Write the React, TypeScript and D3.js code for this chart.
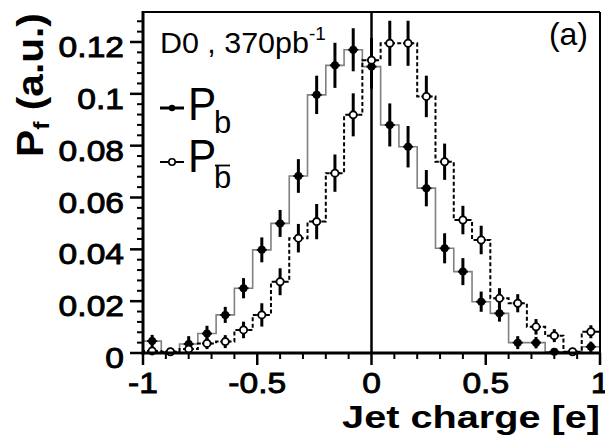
import React from "react";
import * as d3 from "d3";

// Bin centres of the jet-charge histogram (25 bins, width 0.08)
const binCenters = [
  -0.96, -0.88, -0.8, -0.72, -0.64, -0.56, -0.48, -0.4, -0.32, -0.24, -0.16, -0.08, 0,
  0.08, 0.16, 0.24, 0.32, 0.4, 0.48, 0.56, 0.64, 0.72, 0.8, 0.88, 0.96,
];
const binWidth = 0.08;

// P_b (solid grey histogram, filled markers)
const pbValues = [
  0.0046, 0.0005, 0.0035, 0.0075, 0.0147, 0.025, 0.0398, 0.05, 0.0683, 0.0996, 0.111, 0.117, 0.1105,
  0.088, 0.0796, 0.0636, 0.0404, 0.0314, 0.0198, 0.0153, 0.004, 0.004, 0.0005, 0.0005, 0.0024,
];
const pbErrors = [
  0.0024, 0.0012, 0.003, 0.003, 0.0031, 0.0039, 0.0048, 0.0052, 0.0065, 0.0074, 0.0087, 0.0083, 0.0085,
  0.0083, 0.008, 0.007, 0.0058, 0.0052, 0.0039, 0.0032, 0.0025, 0.0022, 0.0012, 0.0012, 0.002,
];

// P_bbar (dashed black histogram, open markers)
const pbbarValues = [
  0.0008, 0.0005, 0.0015, 0.0037, 0.0044, 0.0089, 0.0147, 0.0275, 0.0443, 0.0507, 0.0694, 0.0919, 0.113,
  0.1195, 0.1195, 0.099, 0.0738, 0.0513, 0.0436, 0.0211, 0.0192, 0.0101, 0.0067, 0.0005, 0.0082,
];
const pbbarErrors = [
  0.0012, 0.0012, 0.0018, 0.0022, 0.0025, 0.0032, 0.0045, 0.0052, 0.0055, 0.0068, 0.0072, 0.0083, 0.0085,
  0.0087, 0.0087, 0.008, 0.007, 0.0055, 0.0055, 0.0039, 0.0035, 0.003, 0.0025, 0.0012, 0.0025,
];

const xTicks = [-1, -0.5, 0, 0.5, 1];
const xTickLabels = ["-1", "-0.5", "0", "0.5", "1"];
const yTicks = [0, 0.02, 0.04, 0.06, 0.08, 0.1, 0.12];
const yTickLabels = ["0", "0.02", "0.04", "0.06", "0.08", "0.1", "0.12"];

const W = 605;
const H = 442;
const FONT = "'Liberation Sans', Arial, Helvetica, sans-serif";

export default function App() {
  const left = 143, right = 600, top = 12, bottom = 353;
  const x = d3.scaleLinear().domain([-1, 1]).range([left, right]);
  const y = d3.scaleLinear().domain([0, 0.12]).range([bottom, 42]);
  const yTop = y.invert(top);

  const stepPoints = (vals: number[]) => {
    const pts: [number, number][] = [];
    pts.push([binCenters[0] - binWidth / 2, 0]);
    vals.forEach((v, i) => {
      pts.push([binCenters[i] - binWidth / 2, v]);
      pts.push([binCenters[i] + binWidth / 2, v]);
    });
    pts.push([binCenters[binCenters.length - 1] + binWidth / 2, 0]);
    return pts;
  };
  const line = d3
    .line<[number, number]>()
    .x((d) => x(d[0]))
    .y((d) => y(d[1]));

  const yMinor = d3.range(0, yTop, 0.004).filter((v) => Math.abs(v / 0.02 - Math.round(v / 0.02)) > 1e-6);
  const xMinor = d3.range(-1, 1.0001, 0.1).filter((v) => Math.abs(v / 0.5 - Math.round(v / 0.5)) > 1e-6);

  const marker = (vals: number[], errs: number[], open: boolean) =>
    vals.map((v, i) => {
      const cx = x(binCenters[i]);
      const cy = y(v);
      return (
        <g key={(open ? "o" : "f") + i}>
          <line x1={cx} x2={cx} y1={y(v + errs[i])} y2={y(Math.max(0, v - errs[i]))} stroke="#000" strokeWidth={3} />
          <line x1={cx - 5} x2={cx + 5} y1={cy} y2={cy} stroke="#000" strokeWidth={2} />
          <circle cx={cx} cy={cy} r={open ? 3.6 : 4} fill={open ? "#fff" : "#000"} stroke="#000" strokeWidth={open ? 1.8 : 0} />
        </g>
      );
    });

  return (
    <div style={{ position: "absolute", left: 0, top: 0 }}>
      <svg width={W} height={H} style={{ display: "block", background: "#fff" }} fontFamily={FONT}>
        <rect x={0} y={0} width={W} height={H} fill="#fff" />
        {/* histograms */}
        <path d={line(stepPoints(pbValues)) || ""} fill="none" stroke="#808080" strokeWidth={1.6} />
        <path d={line(stepPoints(pbbarValues)) || ""} fill="none" stroke="#000" strokeWidth={2} strokeDasharray="4,2.5" />
        {/* zero line */}
        <line x1={x(0)} x2={x(0)} y1={top} y2={bottom} stroke="#000" strokeWidth={2.5} />
        {/* markers */}
        {marker(pbValues, pbErrors, false)}
        {marker(pbbarValues, pbbarErrors, true)}

        {/* frame */}
        <line x1={left} x2={right} y1={top} y2={top} stroke="#000" strokeWidth={2} />
        <line x1={right} x2={right} y1={top} y2={bottom} stroke="#000" strokeWidth={2} />
        <line x1={left} x2={left} y1={top - 1} y2={bottom + 1.5} stroke="#000" strokeWidth={3} />
        <line x1={left - 1.5} x2={right} y1={bottom} y2={bottom} stroke="#000" strokeWidth={3} />

        {/* y ticks */}
        {yTicks.map((t) => (
          <line key={"ym" + t} x1={left - 13} x2={left} y1={y(t)} y2={y(t)} stroke="#000" strokeWidth={2.5} />
        ))}
        {yMinor.map((t) => (
          <line key={"yn" + t} x1={left - 6} x2={left} y1={y(t)} y2={y(t)} stroke="#000" strokeWidth={2} />
        ))}
        {yTicks.map((t, i) => (
          <text key={"yl" + t} transform={`translate(124,${y(t) + 15}) scale(1.12,1)`} textAnchor="end" fontSize={30} fill="#000" stroke="#000" strokeWidth={0.9}>
            {yTickLabels[i]}
          </text>
        ))}

        {/* x ticks */}
        {xTicks.map((t) => (
          <line key={"xm" + t} x1={x(t)} x2={x(t)} y1={bottom} y2={bottom + 12} stroke="#000" strokeWidth={2.5} />
        ))}
        {xMinor.map((t) => (
          <line key={"xn" + t} x1={x(t)} x2={x(t)} y1={bottom} y2={bottom + 6} stroke="#000" strokeWidth={2} />
        ))}
        {xTicks.map((t, i) => (
          <text key={"xl" + t} transform={`translate(${x(t)},393) scale(1.12,1)`} textAnchor="middle" fontSize={30} fill="#000" stroke="#000" strokeWidth={0.9}>
            {xTickLabels[i]}
          </text>
        ))}

        {/* axis titles */}
        <text transform="translate(600,428) scale(1.24,1)" textAnchor="end" fontSize={32} fontWeight="bold" fill="#000">
          Jet charge [e]
        </text>
        <text transform="translate(43,157) rotate(-90) scale(1.13,1)" textAnchor="start" fontSize={36} fontWeight="bold" fill="#000">
          <tspan>P</tspan>
          <tspan fontSize={22} dy={6}>f</tspan>
          <tspan dy={-6}> (a.u.)</tspan>
        </text>

        {/* annotations */}
        <text transform="translate(160,53) scale(1.05,1)" fontSize={29} fill="#000">
          <tspan>D0 , 370pb</tspan>
          <tspan fontSize={18} dy={-13}>-1</tspan>
        </text>
        <text transform="translate(588,45)" textAnchor="end" fontSize={32} fill="#000">
          (a)
        </text>

        {/* legend */}
        <line x1={160} x2={184} y1={108} y2={108} stroke="#000" strokeWidth={3} />
        <circle cx={172} cy={108} r={3.2} fill="#000" />
        <text transform="translate(188,120) scale(0.92,1)" fontSize={46} fill="#000">P</text>
        <text transform="translate(214,133)" fontSize={31} fill="#000">b</text>

        <line x1={160} x2={184} y1={162} y2={162} stroke="#000" strokeWidth={2} />
        <circle cx={172} cy={162} r={3.2} fill="#fff" stroke="#000" strokeWidth={1.6} />
        <text transform="translate(188,172) scale(0.92,1)" fontSize={46} fill="#000">P</text>
        <text transform="translate(214,188)" fontSize={31} fill="#000">b</text>
        <line x1={215} x2={230} y1={165.5} y2={165.5} stroke="#000" strokeWidth={1.8} />
      </svg>
    </div>
  );
}
